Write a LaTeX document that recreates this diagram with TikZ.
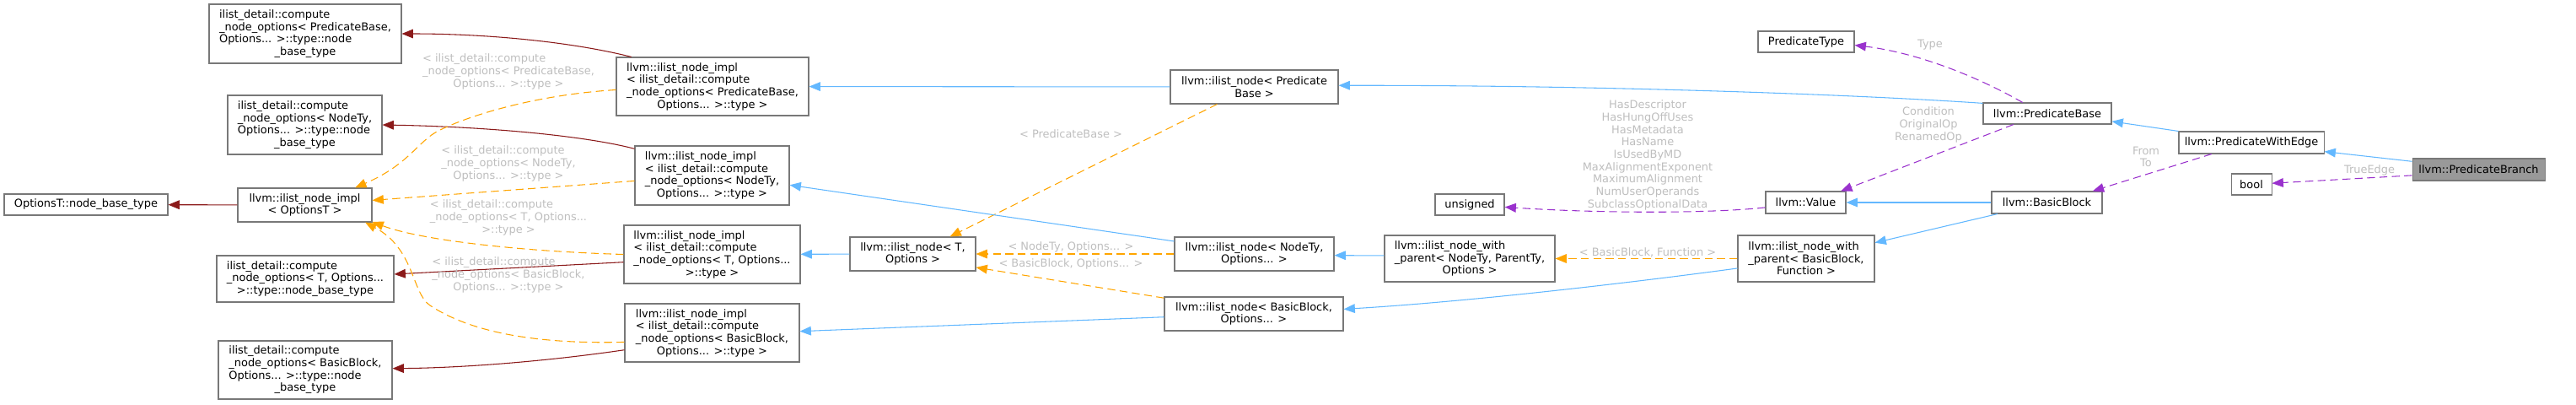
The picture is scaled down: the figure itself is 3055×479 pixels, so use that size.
\documentclass[tikz,border=0pt]{standalone}
\usepackage{fontspec}
\setmainfont{DejaVu Sans}
\usepackage{tikz}
\usetikzlibrary{arrows.meta}

\definecolor{pubblue}{RGB}{99,184,255}
\definecolor{privred}{RGB}{139,26,26}
\definecolor{tmplorange}{RGB}{255,165,0}
\definecolor{usepurple}{RGB}{154,50,205}
\definecolor{lblgrey}{RGB}{190,190,190}
\definecolor{boxborder}{RGB}{120,120,120}
\definecolor{focusfill}{RGB}{153,153,153}

\newcommand{\dgfont}{\fontsize{9.7}{11}\selectfont}

\tikzset{
  cbox/.style 2 args={draw=boxborder, fill=white, line width=0.8pt,
    minimum width=#1, minimum height=#2, inner xsep=0pt, inner ysep=1pt,
    align=left, font=\dgfont},
  focus/.style={fill=focusfill},
  elabel/.style={text=lblgrey, align=left, font=\dgfont, inner sep=0pt},
  mlabel/.style={elabel, align=center},
  pub/.style={draw=pubblue, line width=0.8pt, -{Triangle[length=10pt,width=8pt]}},
  priv/.style={pub, draw=privred},
  tmpl/.style={pub, draw=tmplorange, dash pattern=on 7pt off 4pt},
  usage/.style={pub, draw=usepurple, dash pattern=on 7pt off 4pt}
}

\begin{document}
\begin{tikzpicture}[x=0.75pt, y=-0.75pt]
\useasboundingbox (0,0) rectangle (3055,479);

% classes
\node[cbox={145.5pt}{18.75pt}] (optbase) at (102,242.5) {OptionsT::node\_base\_type};
\node[cbox={119.25pt}{30pt}] (impl) at (361.5,243) {llvm::ilist\_node\_impl\\\hfil< OptionsT >};
\node[cbox={171pt}{52.5pt}] (cnoPB) at (362,40) {ilist\_detail::compute\\\_node\_options< PredicateBase,\\Options... >::type::node\\\hfil\_base\_type};
\node[cbox={137.25pt}{52.5pt}] (cnoNT) at (361.5,148) {ilist\_detail::compute\\\_node\_options< NodeTy,\\Options... >::type::node\\\hfil\_base\_type};
\node[cbox={157.5pt}{41.25pt}] (cnoT) at (362,330.5) {ilist\_detail::compute\\\_node\_options< T, Options...\\\hfil>::type::node\_base\_type};
\node[cbox={154.5pt}{51.75pt}] (cnoBB) at (362,438.5) {ilist\_detail::compute\\\_node\_options< BasicBlock,\\Options... >::type::node\\\hfil\_base\_type};

\node[cbox={171pt}{51.75pt}] (implPB) at (845,102.5) {llvm::ilist\_node\_impl\\< ilist\_detail::compute\\\_node\_options< PredicateBase,\\\hfil Options... >::type >};
\node[cbox={137.25pt}{52.5pt}] (implNT) at (844.5,208) {llvm::ilist\_node\_impl\\< ilist\_detail::compute\\\_node\_options< NodeTy,\\\hfil Options... >::type >};
\node[cbox={156.75pt}{51.75pt}] (implT) at (844.5,301.5) {llvm::ilist\_node\_impl\\< ilist\_detail::compute\\\_node\_options< T, Options...\\\hfil >::type >};
\node[cbox={155.25pt}{51.75pt}] (implBB) at (844.5,394.5) {llvm::ilist\_node\_impl\\< ilist\_detail::compute\\\_node\_options< BasicBlock,\\\hfil Options... >::type >};

\node[cbox={111.75pt}{30pt}] (nodeT) at (1082.5,301) {llvm::ilist\_node< T,\\\hfil Options >};
\node[cbox={149.25pt}{30pt}] (nodePB) at (1487.5,103) {llvm::ilist\_node< Predicate\\\hfil Base >};
\node[cbox={141.75pt}{30pt}] (nodeNT) at (1487.5,301) {llvm::ilist\_node< NodeTy,\\\hfil Options... >};
\node[cbox={159pt}{30pt}] (nodeBB) at (1487,372) {llvm::ilist\_node< BasicBlock,\\\hfil Options... >};

\node[cbox={61.5pt}{18.75pt}] (unsigned) at (1743,242.5) {unsigned};
\node[cbox={151.5pt}{41.25pt}] (parentNT) at (1743,306.5) {llvm::ilist\_node\_with\\\_parent< NodeTy, ParentTy,\\\hfil Options >};
\node[cbox={85.5pt}{18.75pt}] (predType) at (2142,49.5) {PredicateType};
\node[cbox={71.25pt}{19.5pt}] (value) at (2141.5,240) {llvm::Value};
\node[cbox={121.5pt}{41.25pt}] (parentBB) at (2142,306.5) {llvm::ilist\_node\_with\\\_parent< BasicBlock,\\\hfil Function >};
\node[cbox={114pt}{18.75pt}] (predBase) at (2428,134.5) {llvm::PredicateBase};
\node[cbox={98.25pt}{19.5pt}] (basicBlock) at (2427.5,240) {llvm::BasicBlock};
\node[cbox={129pt}{19.5pt}] (predEdge) at (2670,169) {llvm::PredicateWithEdge};
\node[cbox={36pt}{18.75pt}] (bool) at (2670,218.5) {bool};
\node[cbox={117.75pt}{19.5pt}, focus] (predBranch) at (2939.5,201) {llvm::PredicateBranch};

% private inheritance
\draw[priv] (impl) -- (optbase);
\draw[priv] (implPB.160.6) .. controls (680,50) and (580,40) .. (cnoPB.east);
\draw[priv] (implNT.161.8) .. controls (690,160) and (570,150) .. (cnoNT.east);
\draw[priv] (implT.185) -- (cnoT.3);
\draw[priv] (implBB.191.2) .. controls (650,428) and (550,436) .. (cnoBB.1.4);

% template instances
\draw[tmpl] (implPB.182) .. controls (640,112) and (560,135) .. (520,155)
  .. controls (496,167) and (485,195) .. (impl.19);
\draw[tmpl] (implNT.184.4) -- (impl.4.3);
\draw[tmpl] (implT.west) .. controls (620,298) and (500,285) .. (impl.-14.5);
\draw[tmpl] (implBB.186.9) .. controls (640,408) and (560,395) .. (510,362)
  .. controls (488,347) and (492,295) .. (impl.-16.5);
\draw[tmpl] (nodePB.205) -- (nodeT.25);
\draw[tmpl] (nodeNT) -- (nodeT);
\draw[tmpl] (nodeBB.170.9) -- (nodeT.-12.1);
\draw[tmpl] (parentBB) -- (parentNT);

% public inheritance
\draw[pub] (nodePB) -- (implPB);
\draw[pub] (nodeNT.171) -- (implNT.-7.5);
\draw[pub] (nodeT) -- (implT);
\draw[pub] (nodeBB.182.2) -- (implBB.1.9);
\draw[pub] (parentNT.178.6) -- (nodeNT.-1.8);
\draw[pub] (parentBB.188.8) .. controls (1950,333) and (1750,357) .. (nodeBB.3.2);
\draw[pub] (predBase.171.4) .. controls (2200,112) and (1900,101) .. (nodePB.1.2);
\draw[pub] (basicBlock) -- (value);
\draw[pub] (basicBlock.193.2) -- (parentBB.13.5);
\draw[pub] (predEdge.north west) -- (predBase.-7.9);
\draw[pub] (predBranch.173.5) -- (predEdge.-7.9);

% usage
\draw[usage] (value.187.2) .. controls (2030,253) and (1900,253) .. (unsigned.-4.9);
\draw[usage] (predBase.156) .. controls (2340,88) and (2270,62) .. (predType.-4.5);
\draw[usage] (predBase.198) -- (value.18);
\draw[usage] (predEdge.196) -- (basicBlock.14.7);
\draw[usage] (predBranch.185.1) -- (bool.3.6);

% edge labels
\node[elabel] (lblPB) at (603,85) {< ilist\_detail::compute\\\_node\_options< PredicateBase,\\\hfil Options... >::type >};
\node[elabel] (lblNT) at (603,194) {< ilist\_detail::compute\\\_node\_options< NodeTy,\\\hfil Options... >::type >};
\node[elabel] (lblT) at (603,258) {< ilist\_detail::compute\\\_node\_options< T, Options...\\\hfil >::type >};
\node[elabel] (lblBB) at (603,326) {< ilist\_detail::compute\\\_node\_options< BasicBlock,\\\hfil Options... >::type >};
\node[mlabel] (lblNodePB) at (1270,159) {< PredicateBase >};
\node[mlabel] (lblNodeNT) at (1270,293) {< NodeTy, Options... >};
\node[mlabel] (lblNodeBB) at (1270,313) {< BasicBlock, Options... >};
\node[mlabel] (lblParent) at (1954,299) {< BasicBlock, Function >};
\node[mlabel] (lblValue) at (1954,184) {HasDescriptor\\HasHungOffUses\\HasMetadata\\HasName\\IsUsedByMD\\MaxAlignmentExponent\\MaximumAlignment\\NumUserOperands\\SubclassOptionalData};
\node[mlabel] (lblType) at (2289,53) {Type};
\node[mlabel] (lblOps) at (2287,148) {Condition\\OriginalOp\\RenamedOp};
\node[mlabel] (lblFromTo) at (2545,186) {From\\To};
\node[mlabel] (lblTrue) at (2810,202) {TrueEdge};
\end{tikzpicture}
\end{document}
